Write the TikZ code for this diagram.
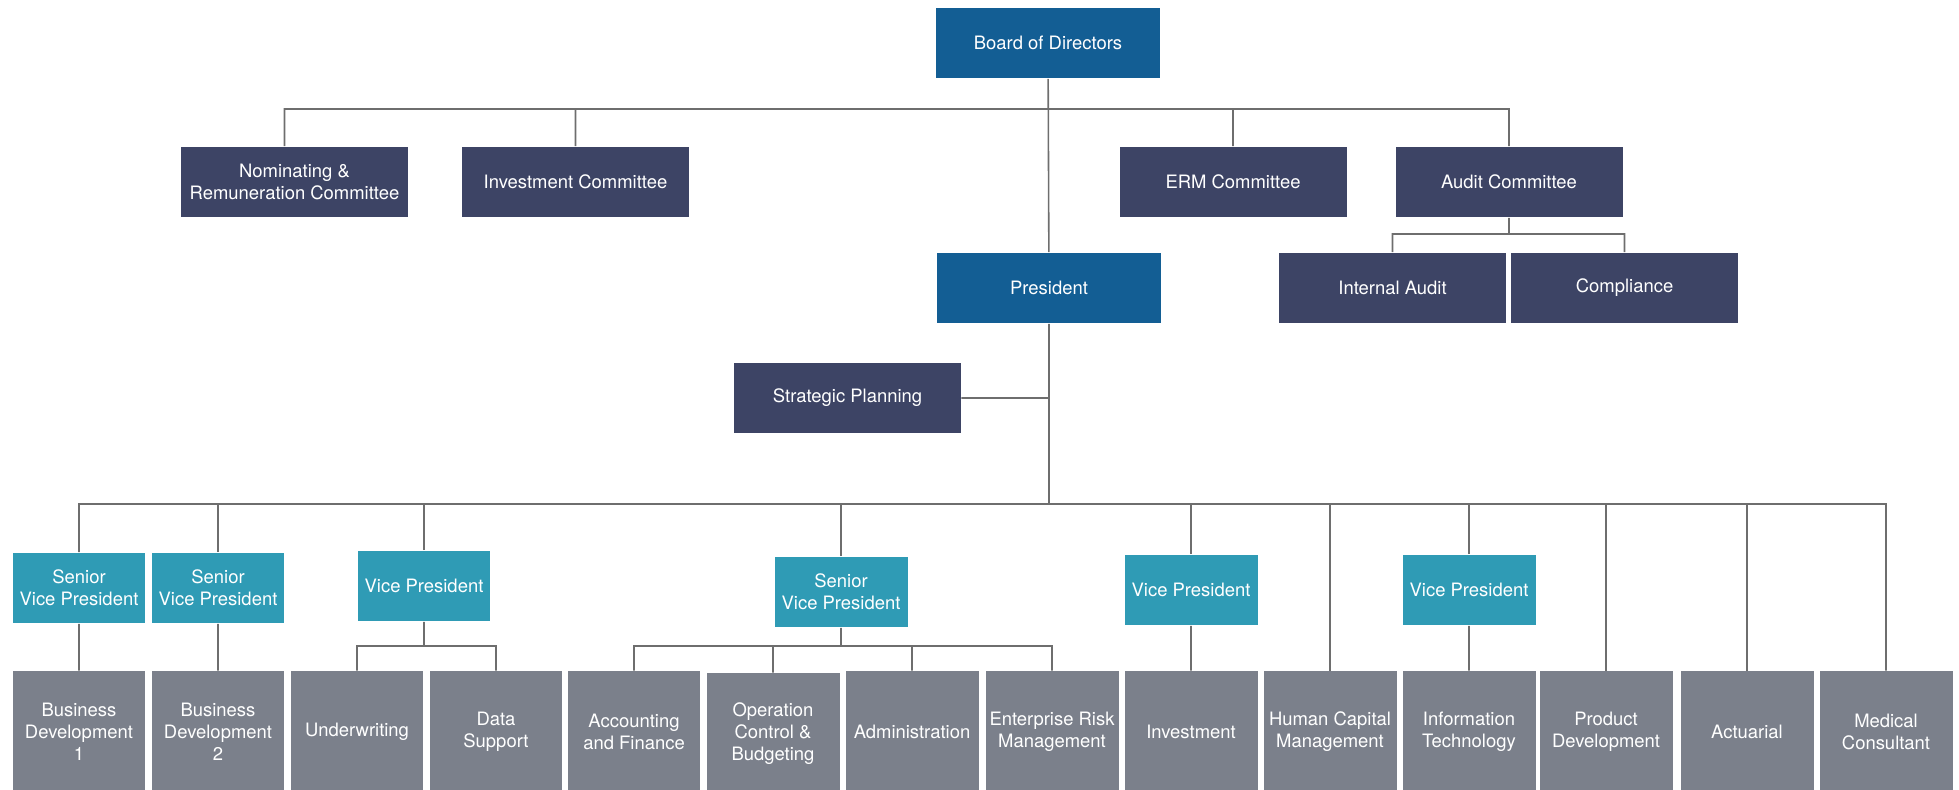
\documentclass[tikz,border=0pt]{standalone}
\usepackage{fontspec}
\setmainfont{TeX Gyre Heros}
\usepackage{xcolor}
\usepackage{tikz}
\usetikzlibrary{calc, positioning}

\definecolor{boardblue}{RGB}{19,94,148}
\definecolor{navy}{RGB}{61,68,101}
\definecolor{teal}{RGB}{47,155,181}
\definecolor{slate}{RGB}{123,128,139}
\definecolor{wire}{RGB}{110,110,110}

\begin{document}
\begin{tikzpicture}[x=0.02cm, y=-0.02cm]
		\tikzstyle{box} = [inner sep=0pt, align=center, text=white, font=\fontsize{10.5}{12.5}\selectfont]
		\tikzstyle{top} = [box, fill=boardblue, minimum width=4.5cm, minimum height=1.42cm]
		\tikzstyle{comm} = [box, fill=navy, minimum width=4.54cm, minimum height=1.42cm]
		\tikzstyle{vp} = [box, fill=teal, minimum width=2.66cm, minimum height=1.42cm]
		\tikzstyle{dept} = [box, fill=slate, minimum width=2.66cm, minimum height=2.44cm]
		\tikzstyle{line} = [draw=wire, line width=0.9pt]

		\useasboundingbox (0,0) rectangle (1959,790);
		\clip (0,0) rectangle (1959,790);

		\node[top] 	at (1048, 43)		(board) 	{Board of Directors};
		\node[comm] 	at (294.5, 182)		(nom) 	{Nominating \&\\Remuneration Committee};
		\node[comm] 	at (575.5, 182)		(invc) 	{Investment Committee};
		\node[comm] 	at (1233, 182)		(ermc) 	{ERM Committee};
		\node[comm] 	at (1509, 182)		(audit) 	{Audit Committee};
		\node[top] 	at (1049, 288)		(pres) 	{President};
		\node[comm] 	at (1392.5, 288)	(ia) 	{Internal Audit};
		\node[comm] 	at (1624.5, 288)	(comp) 	{Compliance};
		\node[comm] 	at (847.5, 398)		(strat) 	{Strategic Planning};

		\node[vp] 	at (79, 588)		(svpa) 	{Senior\\Vice President};
		\node[vp] 	at (218, 588)		(svpb) 	{Senior\\Vice President};
		\node[vp] 	at (424, 586)		(vpuw) 	{Vice President};
		\node[vp] 	at (841, 592)		(svpac) 	{Senior\\Vice President};
		\node[vp] 	at (1191, 590)		(vpinv) 	{Vice President};
		\node[vp] 	at (1469, 590)		(vpit) 	{Vice President};

		\node[dept] 	at (79, 732)		(bd1) 	{Business\\Development\\1};
		\node[dept] 	at (218, 732)		(bd2) 	{Business\\Development\\2};
		\node[dept] 	at (357, 732)		(uw) 	{Underwriting};
		\node[dept] 	at (496, 732)		(ds) 	{Data\\Support};
		\node[dept] 	at (634, 732)		(acc) 	{Accounting\\and Finance};
		\node[dept] 	at (773, 734)		(ocb) 	{Operation\\Control \&\\Budgeting};
		\node[dept] 	at (912, 732)		(adm) 	{Administration};
		\node[dept] 	at (1052, 732)		(erm) 	{Enterprise Risk\\Management};
		\node[dept] 	at (1191, 732)		(inv) 	{Investment};
		\node[dept] 	at (1330, 732)		(hcm) 	{Human Capital\\Management};
		\node[dept] 	at (1469, 732)		(it) 	{Information\\Technology};
		\node[dept] 	at (1606, 732)		(prod) 	{Product\\Development};
		\node[dept] 	at (1747, 732)		(act) 	{Actuarial};
		\node[dept] 	at (1886, 732)		(med) 	{Medical\\Consultant};

		\coordinate (bar1) at (0, 109);
		\coordinate (bar2) at (0, 504);
		\coordinate (bar3) at (0, 646);
		\coordinate (bar4) at (0, 234);
		\coordinate (nomtop) at ($(nom.north)+(-10,0)$);

		\path[line]
		(board) 	-- 	(pres)
		(nomtop) 	-- 	(nomtop |- bar1)	-| 	(audit.north)
		(invc.north) 	-- 	(invc.north |- bar1)
		(ermc.north) 	-- 	(ermc.north |- bar1)
		(audit.south) 	-- 	(audit.south |- bar4)
		(ia.north) 	-- 	(ia.north |- bar4)	-| 	(comp.north)
		(strat.east) 	-- 	(strat.east -| pres.south)
		(pres.south) 	-- 	(pres.south |- bar2)
		(svpa.north) 	-- 	(svpa.north |- bar2)	-| 	(med.north)
		(svpa) 	-- 	(bd1)
		(svpb) 	-- 	(bd2)
		(vpinv) 	-- 	(inv)
		(vpit) 	-- 	(it)
		(vpuw.south) 	-- 	(vpuw.south |- bar3)
		(uw.north) 	-- 	(uw.north |- bar3)	-| 	(ds.north)
		(svpac.south) 	-- 	(svpac.south |- bar3)
		(acc.north) 	-- 	(acc.north |- bar3)	-| 	(erm.north)
		(ocb.north) 	-- 	(ocb.north |- bar3)
		(adm.north) 	-- 	(adm.north |- bar3);

		\foreach \n in {svpb, vpuw, svpac, vpinv, hcm, vpit, prod, act}
			\draw[line] (\n.north) -- (\n.north |- bar2);
	\end{tikzpicture}
\end{document}
